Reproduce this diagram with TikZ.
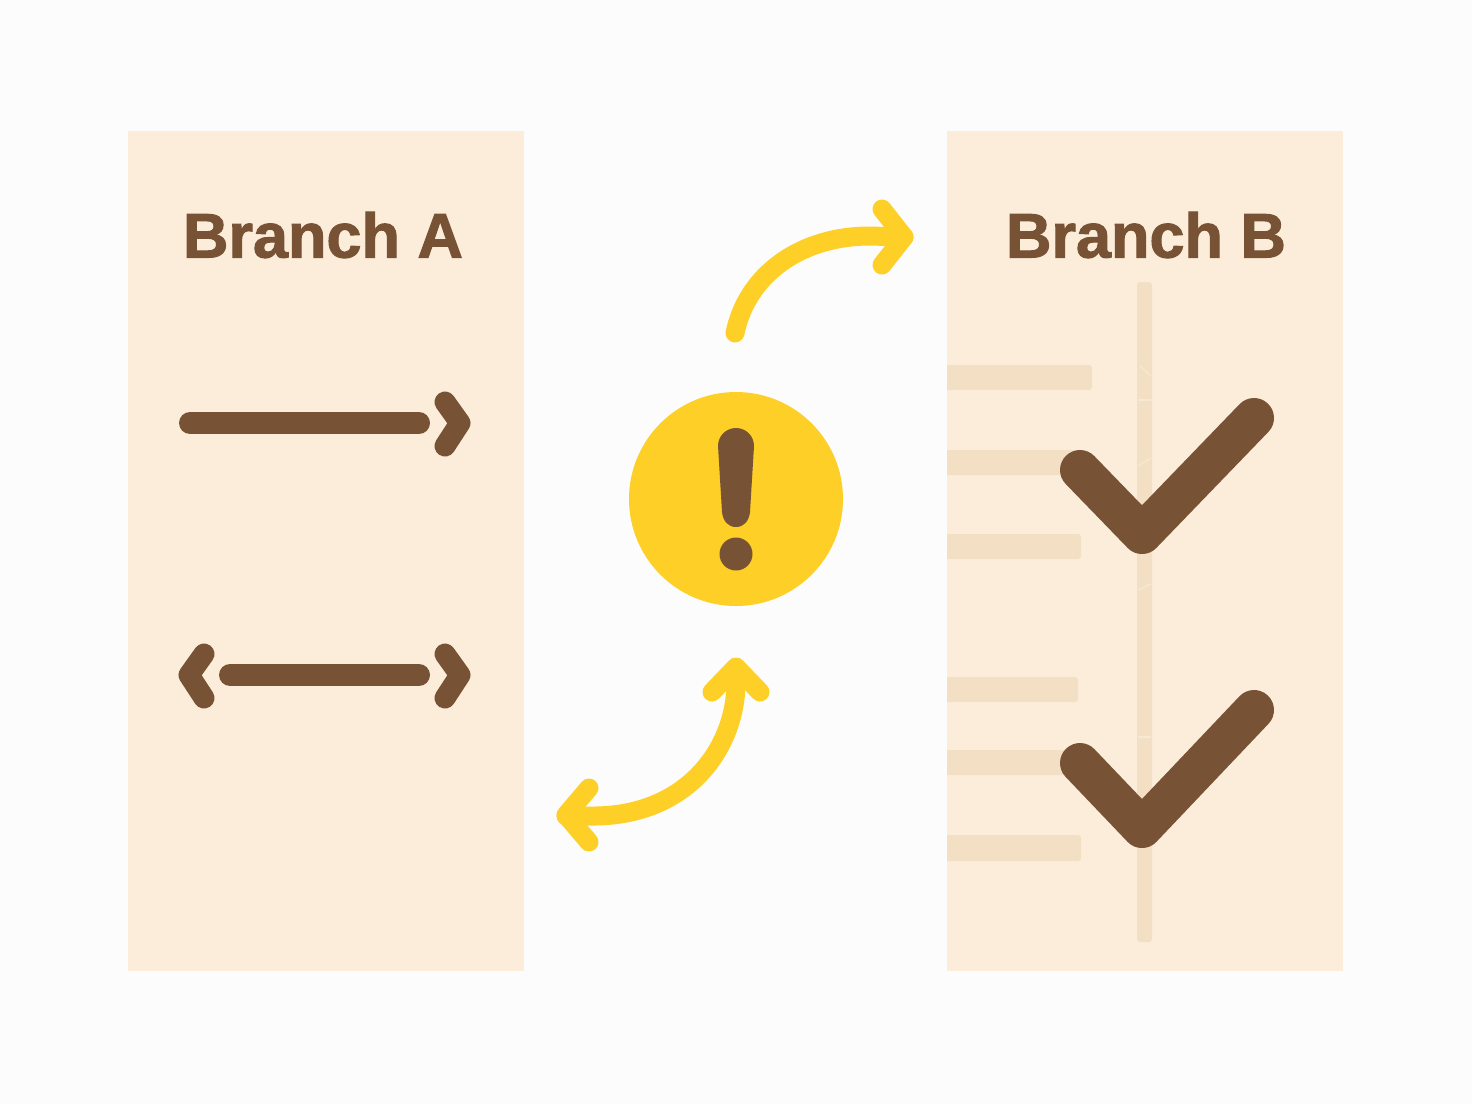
\documentclass[tikz,border=0pt]{standalone}
\usepackage{fontspec}
\setmainfont[BoldFeatures={FakeBold=1.6}]{Liberation Sans}
\definecolor{pagebg}{HTML}{FCFCFC}
\definecolor{panelbg}{HTML}{FCEDDB}
\definecolor{barbg}{HTML}{F3E0C4}
\definecolor{markc}{HTML}{F7E8D2}
\definecolor{brownc}{HTML}{785235}
\definecolor{yellowc}{HTML}{FDCF27}
\tikzset{
  panel/.style={fill=panelbg,draw=none,minimum width=396pt,minimum height=840pt,inner sep=0pt},
  title/.style={text=brownc,font=\fontsize{63}{63}\selectfont\bfseries,inner sep=0pt},
  bar/.style={fill=barbg,draw=none,rounded corners=3pt},
  barmark/.style={draw=markc,line width=1.3pt},
  brownline/.style={draw=brownc,line width=22pt,line cap=round,line join=round},
  brownhead/.style={draw=brownc,line width=21pt,line cap=round,line join=round},
  checkmark/.style={draw=brownc,line width=40pt,line cap=round,line join=round},
  yellowline/.style={draw=yellowc,line width=19pt,line cap=round,line join=round},
}
\begin{document}
\begin{tikzpicture}[x=1pt,y=-1pt]
\useasboundingbox[fill=pagebg] (0,0) rectangle (1472,1104);
% panels
\node[panel,anchor=north west] (panelA) at (128,131) {};
\node[panel,anchor=north west] (panelB) at (947,131) {};
\node[title] (titleA) at (323,235) {Branch A};
\node[title] (titleB) at (1146,235) {Branch B};
% panel B background bars
\begin{scope}
\clip (947,131) rectangle (1343,971);
\fill[bar] (1137,282) rectangle (1152,942);
\fill[bar] (930,365) rectangle (1092,390);
\fill[bar] (930,450) rectangle (1085,475);
\fill[bar] (930,534) rectangle (1081,559);
\fill[bar] (930,677) rectangle (1078,702);
\fill[bar] (930,750) rectangle (1085,775);
\fill[bar] (930,835) rectangle (1081,861);
\end{scope}
\draw[barmark] (1140,366) -- (1151,376);
\draw[barmark] (1138,400) -- (1151,400);
\draw[barmark] (1138,466) -- (1151,458);
\draw[barmark] (1138,590) -- (1151,584);
\draw[barmark] (1138,737) -- (1151,737);
% panel A arrows
\coordinate (a1s) at (190,423);
\coordinate (a1e) at (419,423);
\draw[brownline] (a1s) -- (a1e);
\draw[brownhead] (445,402) -- (460,423) -- (445,446);
\coordinate (a2s) at (230,675);
\coordinate (a2e) at (419,675);
\draw[brownline] (a2s) -- (a2e);
\draw[brownhead] (445,654) -- (460,675) -- (445,698);
\draw[brownhead] (204,654) -- (189,675) -- (204,698);
% checks
\draw[checkmark] (1080,470) -- (1142,534) -- (1254,418);
\draw[checkmark] (1080,763) -- (1142,828) -- (1254,710);
% warning
\node[circle,fill=yellowc,minimum size=214pt,inner sep=0pt] (warn) at (736,499) {};
\fill[brownc] (718,446) .. controls (718,436) and (726,428) .. (736,428)
  .. controls (746,428) and (754,436) .. (754,446)
  -- (750,512) .. controls (749,521) and (744,527) .. (736,527)
  .. controls (728,527) and (723,521) .. (722,512) -- cycle;
\fill[brownc] (736,554) circle[radius=16.5];
% yellow connectors
\coordinate (upS) at (735,333);
\coordinate (upE) at (904,237);
\draw[yellowline] (upS) .. controls (747,275) and (800,236) .. (870,236) -- (upE);
\draw[yellowline] (882,209) -- (904,237) -- (882,265);
\coordinate (loU) at (736,668);
\coordinate (loL) at (566,816);
\draw[yellowline] (loU) -- (736,680) .. controls (737,745) and (690,815) .. (595,816) -- (loL);
\draw[yellowline] (712,692) -- (736,667) -- (760,692);
\draw[yellowline] (589,788) -- (566,815) -- (589,842);
\end{tikzpicture}
\end{document}
